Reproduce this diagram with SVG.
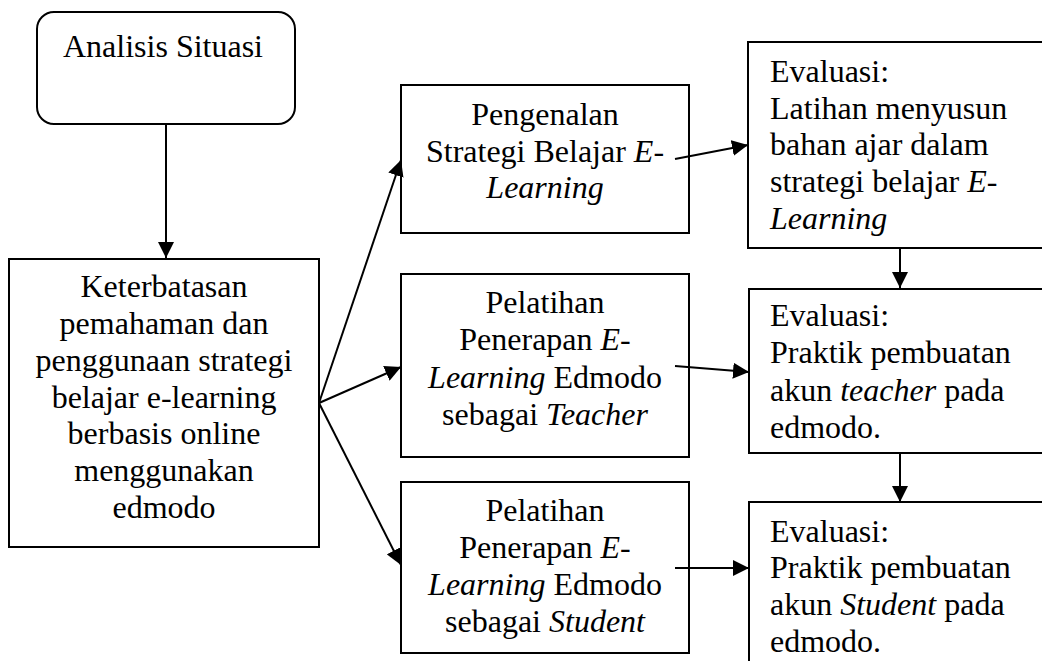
<svg xmlns="http://www.w3.org/2000/svg" width="1042" height="661" viewBox="0 0 1042 661">
<defs>
<style>
.box{fill:#fff;stroke:#000;stroke-width:2}
.t{font-family:"Liberation Serif","Times New Roman",serif;font-size:32px;fill:#000}
.c{text-anchor:middle}
.i{font-style:italic}
.con line{stroke:#000;stroke-width:2;marker-end:url(#ah)}
</style>
<marker id="ah" markerUnits="userSpaceOnUse" viewBox="0 0 16 16" refX="16" refY="8" markerWidth="16" markerHeight="16" orient="auto">
<path d="M0,0 L16,8 L0,16 z" fill="#000"/>
</marker>
</defs>
<rect width="1042" height="661" fill="#fff"/>

<g id="analisis">
<rect class="box" x="37" y="12" width="258" height="112" rx="17" ry="17"/>
<text class="t c" x="163" y="57">Analisis Situasi</text>
</g>

<g id="keterbatasan">
<rect class="box" x="9" y="259" width="310" height="288"/>
<text class="t c" x="164" y="297">Keterbatasan</text>
<text class="t c" x="164" y="334">pemahaman dan</text>
<text class="t c" x="164" y="371">penggunaan strategi</text>
<text class="t c" x="164" y="408">belajar e-learning</text>
<text class="t c" x="164" y="444">berbasis online</text>
<text class="t c" x="164" y="481">menggunakan</text>
<text class="t c" x="164" y="518">edmodo</text>
</g>

<g id="pengenalan">
<rect class="box" x="401" y="85" width="288" height="148"/>
<text class="t c" x="545" y="125">Pengenalan</text>
<text class="t c" x="545" y="162">Strategi Belajar <tspan class="i">E-</tspan></text>
<text class="t c i" x="545" y="198">Learning</text>
</g>

<g id="pelatihan-teacher">
<rect class="box" x="401" y="274" width="288" height="183"/>
<text class="t c" x="545" y="313">Pelatihan</text>
<text class="t c" x="545" y="350">Penerapan <tspan class="i">E-</tspan></text>
<text class="t c" x="545" y="388"><tspan class="i">Learning</tspan> Edmodo</text>
<text class="t c" x="545" y="425">sebagai <tspan class="i">Teacher</tspan></text>
</g>

<g id="pelatihan-student">
<rect class="box" x="401" y="482" width="288" height="171"/>
<text class="t c" x="545" y="521">Pelatihan</text>
<text class="t c" x="545" y="558">Penerapan <tspan class="i">E-</tspan></text>
<text class="t c" x="545" y="595"><tspan class="i">Learning</tspan> Edmodo</text>
<text class="t c" x="545" y="632">sebagai <tspan class="i">Student</tspan></text>
</g>

<g id="evaluasi-1">
<rect class="box" x="748" y="42" width="310" height="206"/>
<text class="t" x="770" y="82">Evaluasi:</text>
<text class="t" x="770" y="118.7">Latihan menyusun</text>
<text class="t" x="770" y="155.4">bahan ajar dalam</text>
<text class="t" x="770" y="192">strategi belajar <tspan class="i">E-</tspan></text>
<text class="t i" x="770" y="228.7">Learning</text>
</g>

<g id="evaluasi-2">
<rect class="box" x="749" y="289" width="310" height="164"/>
<text class="t" x="770" y="326">Evaluasi:</text>
<text class="t" x="770" y="363">Praktik pembuatan</text>
<text class="t" x="770" y="401">akun <tspan class="i">teacher</tspan> pada</text>
<text class="t" x="770" y="438">edmodo.</text>
</g>

<g id="evaluasi-3">
<rect class="box" x="749" y="502" width="310" height="180"/>
<text class="t" x="770" y="542">Evaluasi:</text>
<text class="t" x="770" y="578">Praktik pembuatan</text>
<text class="t" x="770" y="615">akun <tspan class="i">Student</tspan> pada</text>
<text class="t" x="770" y="652">edmodo.</text>
</g>

<g id="connectors" class="con">
<line x1="166" y1="124" x2="166" y2="258"/>
<line x1="319" y1="403" x2="401" y2="160"/>
<line x1="319" y1="403" x2="401" y2="367"/>
<line x1="319" y1="403" x2="401" y2="565"/>
<line x1="675" y1="159" x2="748" y2="145"/>
<line x1="675" y1="366" x2="749" y2="372"/>
<line x1="675" y1="568" x2="749" y2="568"/>
<line x1="900" y1="248" x2="900" y2="288"/>
<line x1="900" y1="453" x2="900" y2="502"/>
</g>
</svg>
